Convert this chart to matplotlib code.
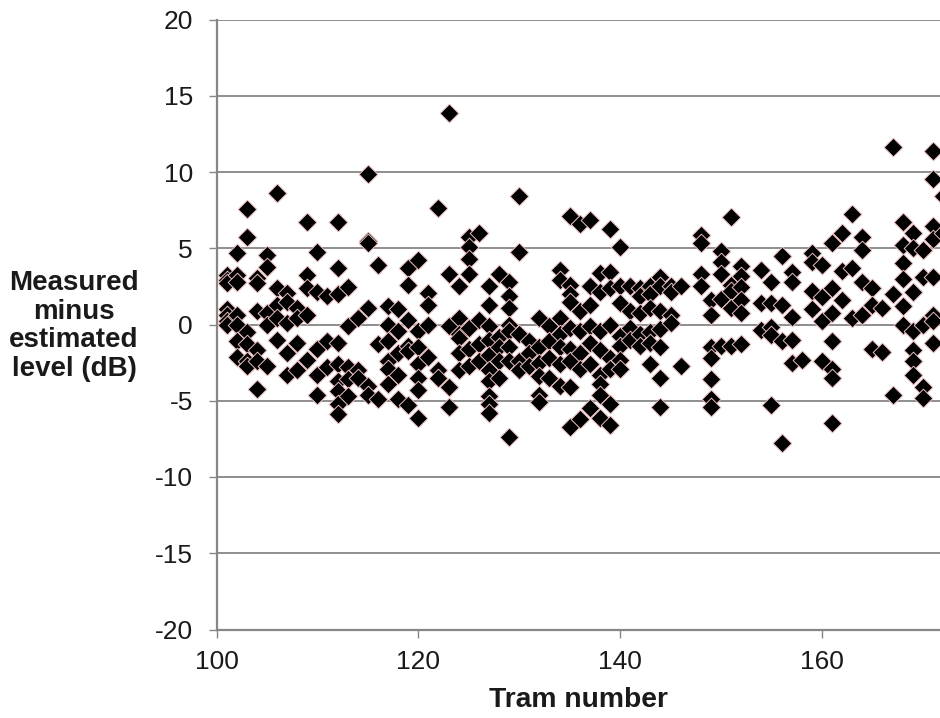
import numpy as np
import matplotlib
matplotlib.use("Agg")
import matplotlib.pyplot as plt

plt.rcParams['font.family'] = ['Liberation Sans', 'DejaVu Sans']
plt.rcParams['axes.unicode_minus'] = False

# tram numbers and the measured-minus-estimated levels (dB) read for each one
trams = list(range(101, 147)) + [148, 149, 150, 151, 152, 154, 155, 156, 157, 158, 159,
                                 160, 161, 162, 163, 164, 165, 166, 167, 168, 169, 170, 171, 172]
readings = [
    [3.25, 2.9, 2.7, 1.0, 0.65, 0.2, 0.0],                        # 101
    [4.7, 3.25, 2.8, 0.65, 0.0, -1.1, -2.1],                      # 102
    [7.55, 5.76, -0.5, -1.3, -2.4, -2.7],                         # 103
    [3.03, 2.7, 0.9, -1.7, -2.4, -4.2],                           # 104
    [4.56, 3.8, 0.75, 0.0, -2.7],                                 # 105
    [8.64, 2.37, 1.3, 0.4, -1.0],                                 # 106
    [2.08, 1.5, 0.1, -1.85, -3.3],                                # 107
    [1.1, 0.4, -1.2, -3.0],                                       # 108
    [6.74, 3.25, 2.37, 0.65, -2.3],                               # 109
    [4.78, 2.15, -1.6, -3.3, -4.6],                               # 110
    [1.9, -1.1, -2.8],                                            # 111
    [6.74, 3.68, 2.0, -1.2, -2.6, -3.7, -4.35, -5.2, -5.9],       # 112
    [2.45, -0.1, -2.8, -3.6, -4.7],                               # 113
    [0.4, -3.0, -3.5],                                            # 114
    [9.87, 5.5, 5.32, 1.1, -4.0, -4.6],                           # 115
    [3.9, -1.3, -4.9],                                            # 116
    [1.2, 0.0, -1.1, -2.4, -2.9, -3.9],                           # 117
    [1.0, -0.4, -1.85, -3.3, -4.9],                               # 118
    [3.68, 2.6, 0.3, -1.4, -1.75, -5.3],                          # 119
    [4.23, -0.4, -1.5, -2.6, -3.5, -4.3, -6.1],                   # 120
    [2.04, 1.3, 0.0, -2.1],                                       # 121
    [7.62, -3.0, -3.5],                                           # 122
    [13.85, 3.31, -0.1, -4.1, -5.4],                              # 123
    [2.55, 0.4, -0.65, -0.9, -1.85, -3.0],                        # 124
    [5.76, 5.1, 4.27, 3.28, -0.2, -1.6, -2.7],                    # 125
    [5.98, 0.3, -1.3, -2.4],                                      # 126
    [2.55, 1.3, -0.1, -1.0, -2.0, -3.0, -3.7, -4.7, -5.2, -5.8],  # 127
    [3.28, -0.8, -1.5, -2.4, -3.5],                               # 128
    [2.8, 1.9, 1.1, 0.0, -0.4, -1.5, -2.4, -7.36],                # 129
    [8.45, 4.73, -0.65, -2.4, -3.0],                              # 130
    [-1.1, -1.85, -2.7],                                          # 131
    [0.4, -1.5, -2.5, -3.4, -4.6, -5.1],                          # 132
    [-0.1, -1.1, -2.2, -3.5],                                     # 133
    [3.57, 2.92, 0.4, -0.65, -1.5, -2.6, -4.0],                   # 134
    [7.1, 2.6, 2.0, 1.5, -0.2, -1.6, -2.4, -4.1, -6.7],           # 135
    [6.57, 0.9, -0.4, -1.85, -2.9, -6.2],                         # 136
    [6.85, 2.5, 1.3, -0.1, -1.2, -2.6, -5.5],                     # 137
    [3.36, 2.1, -0.4, -1.7, -3.3, -3.9, -4.6, -6.1],              # 138
    [6.24, 3.46, 2.4, 0.0, -2.2, -2.9, -5.2, -6.6],               # 139
    [5.1, 2.55, 1.4, -0.75, -1.4, -2.3, -2.9],                    # 140
    [2.55, 0.9, -0.2, -1.0],                                      # 141
    [2.4, 1.9, 0.75, -0.65, -1.4],                                # 142
    [2.5, 2.0, 1.1, -0.5, -1.2, -2.6],                            # 143
    [3.1, 2.5, 0.9, -0.3, -1.5, -3.5, -5.4],                      # 144
    [2.5, 2.1, 0.65, 0.1],                                        # 145
    [2.5, -2.7],                                                  # 146
    [5.85, 5.32, 3.3, 2.55],                                      # 148
    [1.6, 0.65, -1.5, -2.2, -3.6, -4.9, -5.4],                    # 149
    [4.84, 4.12, 3.3, 1.7, -1.4],                                 # 150
    [7.03, 2.6, 2.2, 1.1, -1.4],                                  # 151
    [3.86, 3.2, 2.45, 1.6, 0.75, -1.3],                           # 152
    [3.57, 1.4, -0.36],                                           # 154
    [2.8, 1.4, -0.14, -0.66, -5.28],                              # 155
    [4.49, 1.3, -1.1, -7.79],                                     # 156
    [3.46, 2.8, 0.5, -1.0, -2.5],                                 # 157
    [-2.3],                                                       # 158
    [4.67, 4.1, 2.2, 1.0],                                        # 159
    [3.9, 1.8, 0.2, -2.4],                                        # 160
    [5.32, 2.4, 0.75, -1.1, -2.9, -3.5, -6.44],                   # 161
    [5.98, 3.5, 1.6],                                             # 162
    [7.23, 3.7, 0.4],                                             # 163
    [5.76, 4.89, 2.8, 0.65],                                      # 164
    [2.4, 1.25, -1.6],                                            # 165
    [1.1, -1.8],                                                  # 166
    [11.66, 2.0, -4.62],                                          # 167
    [6.74, 5.2, 4.01, 3.0, 1.2, 0.0],                             # 168
    [5.98, 5.0, 2.1, -0.4, -1.7, -2.4, -3.3],                     # 169
    [4.9, 3.1, 0.0, -4.08, -4.84],                                # 170
    [11.4, 9.54, 6.46, 5.6, 3.1, 0.65, 0.2, -1.2],                # 171
    [8.4, 6.0],                                                   # 172
]

x = np.repeat(trams, [len(r) for r in readings])
y = np.concatenate(readings)

fig = plt.figure(figsize=(9.4, 7.18), dpi=100)
ax = fig.add_axes([216.5 / 940, 1 - 629.5 / 718, 1 - 216.5 / 940, 610 / 718])

grey = '#868686'
ax.set_ylim(-20, 20)
ax.set_xlim(100, 171.7)
ax.set_yticks(np.arange(-20, 21, 5))
ax.set_xticks([100, 120, 140, 160])
ax.yaxis.grid(True, color=grey, linewidth=1.3)
ax.set_axisbelow(True)

ax.scatter(x, y, marker='D', s=90, c='black', edgecolors='#e8bcbc', linewidths=0.7, zorder=3)

for side in ['top', 'right']:
    ax.spines[side].set_visible(False)
for side in ['left', 'bottom']:
    ax.spines[side].set_color(grey)
    ax.spines[side].set_linewidth(1.6)
ax.tick_params(direction='out', length=6, width=1, color=grey, labelsize=19,
               labelcolor='#1a1a1a')
ax.tick_params(axis='y', pad=11)
ax.tick_params(axis='x', pad=9)

fig.text(0.615, 1 - 700 / 718, 'Tram number', ha='center', va='center',
         fontsize=20.3, fontweight='bold', color='#1a1a1a')
fig.text(74 / 940, 1 - 326 / 718, 'Measured\nminus\nestimated\nlevel (dB)',
         ha='center', va='center', fontsize=20, fontweight='bold',
         color='#1a1a1a', linespacing=1.12)

fig.savefig('out.png', dpi=100)
